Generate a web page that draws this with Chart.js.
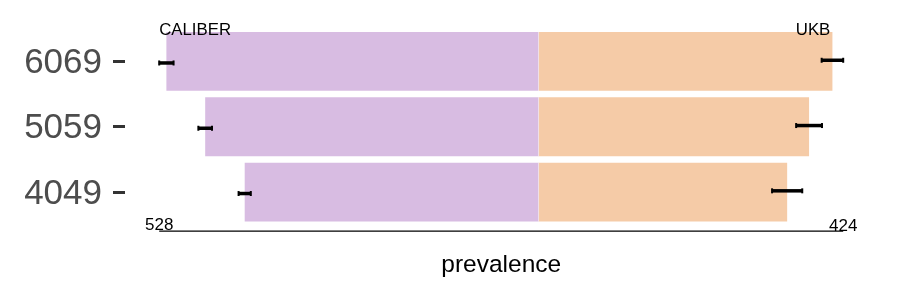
<!DOCTYPE html>
<html>
<head>
<meta charset="utf-8">
<script src="https://cdn.jsdelivr.net/npm/chart.js@4"></script>
<style>
  html, body { margin: 0; padding: 0; background: #ffffff; }
  #wrap { width: 900px; height: 300px; }
</style>
</head>
<body>
<div id="wrap"><canvas id="c" width="900" height="300"></canvas></div>
<script>
// ---- data ----
const categories = ['4049', '5059', '6069'];      // bottom to top
const caliber    = [409, 464, 518];               // CALIBER prevalence (drawn to the left)
const caliberErr = [8.5, 9.5, 10];
const ukb        = [346, 376.5, 409];             // UKB prevalence (drawn to the right)
const ukbErr     = [21, 18, 15];
const endValues  = [-528, 424];                   // axis extent
const endLabels  = ['528', '424'];
const groupLabels = ['CALIBER', 'UKB'];
const xTitle = 'prevalence';

const FONT = '"Liberation Sans", Arial, Helvetica, sans-serif';

const extras = {
  id: 'extras',
  afterDatasetsDraw(chart) {
    const ctx = chart.ctx;
    const xs = chart.scales.x, ys = chart.scales.y;
    ctx.save();
    // thin light seam at the centre of each bar pair
    ctx.fillStyle = 'rgba(255,255,255,0.35)';
    const bars = chart.getDatasetMeta(0).data;
    bars.forEach(b => {
      ctx.fillRect(xs.getPixelForValue(0) - 0.5, b.y - b.height / 2, 1, b.height);
    });
    // error bars
    const drawErr = (vals, errs, sign, dy) => {
      vals.forEach((v, i) => {
        const y = ys.getPixelForValue(i + 1) + dy;
        const x1 = xs.getPixelForValue(sign * (v - errs[i]));
        const x2 = xs.getPixelForValue(sign * (v + errs[i]));
        ctx.strokeStyle = '#000';
        ctx.lineWidth = 3.5;
        ctx.beginPath(); ctx.moveTo(x1, y); ctx.lineTo(x2, y); ctx.stroke();
        ctx.lineWidth = 2;
        [x1, x2].forEach(x => {
          ctx.beginPath(); ctx.moveTo(x, y - 2.5); ctx.lineTo(x, y + 2.5); ctx.stroke();
        });
      });
    };
    drawErr(caliber, caliberErr, -1, 1.5);
    drawErr(ukb, ukbErr, 1, -1.2);
    // bottom axis line between the extent values
    const yb = chart.chartArea.bottom;
    ctx.strokeStyle = '#000';
    ctx.lineWidth = 1.2;
    ctx.beginPath();
    ctx.moveTo(xs.getPixelForValue(endValues[0]), yb);
    ctx.lineTo(xs.getPixelForValue(endValues[1]), yb);
    ctx.stroke();
    // extent labels
    ctx.fillStyle = '#000';
    ctx.font = '17px ' + FONT;
    ctx.textAlign = 'center';
    ctx.textBaseline = 'alphabetic';
    ctx.fillText(endLabels[0], xs.getPixelForValue(endValues[0]), yb - 1);
    ctx.fillText(endLabels[1], xs.getPixelForValue(endValues[1]), yb);
    // group labels at the top
    const yt = ys.getPixelForValue(3) - 26.5;
    ctx.font = '16.8px ' + FONT;
    ctx.textAlign = 'left';
    ctx.fillText(groupLabels[0], xs.getPixelForValue(endValues[0]), yt);
    ctx.textAlign = 'right';
    ctx.fillText(groupLabels[1], xs.getPixelForValue(406), yt);
    ctx.restore();
  }
};

new Chart(document.getElementById('c'), {
  type: 'bar',
  data: {
    datasets: [
      {
        label: groupLabels[0],
        data: caliber.map((v, i) => ({ x: -v, y: i + 1 })),
        backgroundColor: '#D8BCE2',
        borderWidth: 0,
        grouped: false,
        barPercentage: 0.9,
        categoryPercentage: 1.0
      },
      {
        label: groupLabels[1],
        data: ukb.map((v, i) => ({ x: v, y: i + 1 })),
        backgroundColor: '#F5CBA7',
        borderWidth: 0,
        grouped: false,
        barPercentage: 0.9,
        categoryPercentage: 1.0
      }
    ]
  },
  options: {
    indexAxis: 'y',
    responsive: false,
    animation: false,
    layout: { padding: { top: 22.3, right: 22.6, left: 0, bottom: 0 } },
    plugins: { legend: { display: false }, tooltip: { enabled: false } },
    scales: {
      x: {
        type: 'linear',
        min: -575.6,
        max: 471.6,
        grid: { display: false },
        border: { display: false },
        ticks: { display: false },
        title: {
          display: true,
          text: xTitle,
          color: '#000',
          font: { family: FONT, size: 24.5 },
          padding: { top: 0, bottom: 20 }
        },
        afterFit(scale) { scale.height = 68.8; scale.paddingLeft = 0; scale.paddingRight = 0; }
      },
      y: {
        type: 'linear',
        min: 0.4,
        max: 3.6,
        offset: false,
        afterBuildTicks(scale) { scale.ticks = [1, 2, 3].map(v => ({ value: v })); },
        ticks: {
          callback: (v) => categories[v - 1],
          color: '#4D4D4D',
          font: { family: FONT, size: 35 },
          padding: 11,
          labelOffset: 2
        },
        grid: {
          offset: false,
          drawOnChartArea: false,
          drawTicks: true,
          tickLength: 12,
          tickWidth: 3,
          tickColor: '#333333'
        },
        border: { display: false },
        afterFit(scale) { scale.width = 125; scale.paddingTop = 0; scale.paddingBottom = 0; }
      }
    }
  },
  plugins: [extras]
});
</script>
</body>
</html>
